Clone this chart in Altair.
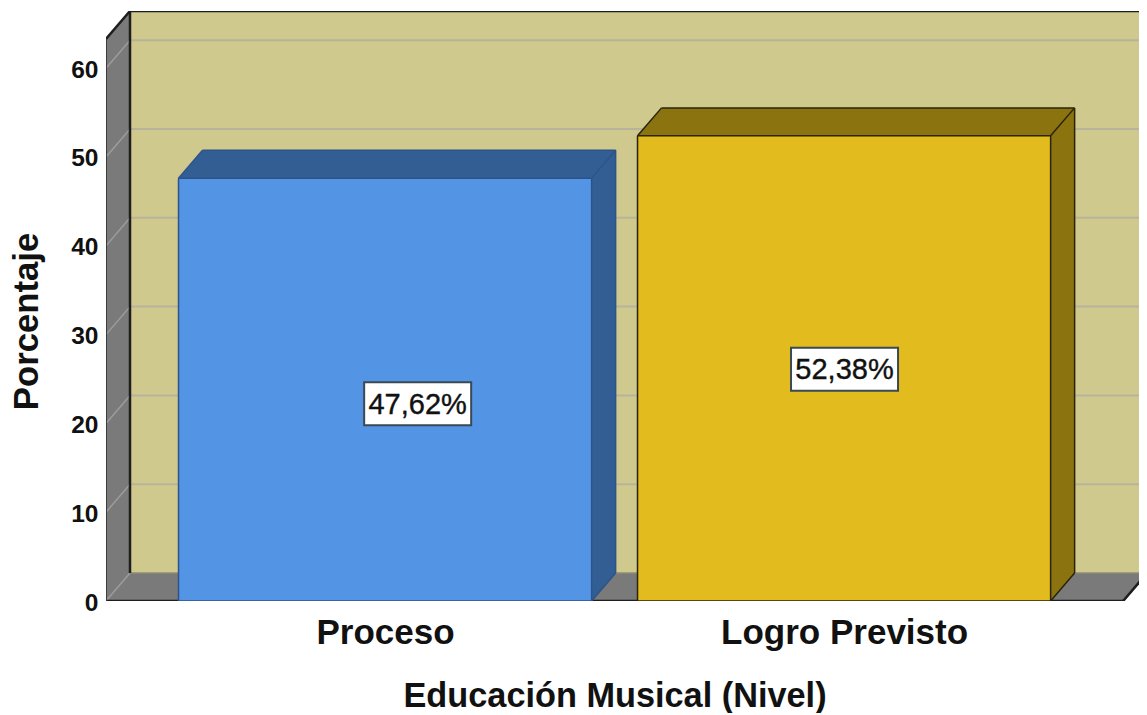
import altair as alt
import pandas as pd

categories = ["Proceso", "Logro Previsto"]
percentages = [47.62, 52.38]
label_texts = ["47,62%", "52,38%"]
label_x = [0.571, 1.501]
label_y = [22.2, 26.1]
centers = [0.5, 1.5]
front_colors = ["#5394E5", "#E2BB1E"]
dark_colors = ["#335E94", "#8B7310"]
edge_colors = ["#2C5488", "#2A2408"]
y_ticks = [0, 10, 20, 30, 40, 50, 60]

BAR_W = 0.9
DX = 0.0523          # depth of the box in x units
DZ = 3.15            # depth of the box in y units
X0, X1 = -0.108, 2.108
XMAX = X1 + DX
X_VIS = X0 + 1033 / 459
Y_TOP = 63.29
WALL = "#CFC98E"
GREY = "#7A7A7A"
GRID = "#B7B49B"
FONT = "Liberation Sans"

xs = alt.Scale(domain=[X0, X_VIS], range=[0, 1033], nice=False, zero=False)
ys = alt.Scale(domain=[0, Y_TOP + DZ], range=[590, 0], nice=False, zero=False)

label_expr = f"datum.value < 1 ? '{categories[0]}' : '{categories[1]}'"
x_axis = alt.Axis(
    values=centers, labelExpr=label_expr, grid=False, domain=False, ticks=False,
    labelFont=FONT, labelFontWeight="bold", labelFontSize=35, labelColor="#111111",
    labelPadding=31, labelBaseline="middle", labelFlush=False, labelOverlap=False, labelLimit=500,
    title="Educación Musical (Nivel)", titleFont=FONT, titleFontWeight="bold",
    titleFontSize=34.3, titleColor="#111111", titleX=508.5, titleY=95,
    titleAnchor="middle", titleAlign="center", titleBaseline="middle", titleLimit=800)
y_axis = alt.Axis(
    values=y_ticks, grid=False, domain=False, ticks=False,
    labelFont=FONT, labelFontWeight="bold", labelFontSize=24.5, labelColor="#111111",
    labelPadding=8, labelOverlap=False, labelFlush=False, labelOffset=2,
    title="Porcentaje", titleFont=FONT, titleFontWeight="bold", titleFontSize=34.7,
    titleColor="#111111", titleX=-79, titleY=310, titleAngle=270,
    titleAlign="center", titleBaseline="middle", titleLimit=500)


def X(f="x"):
    return alt.X(f"{f}:Q", scale=xs, axis=x_axis)


def Y(f="y"):
    return alt.Y(f"{f}:Q", scale=ys, axis=y_axis)


def wall_v(x, w, lo, hi, color):
    """Parallelogram with two vertical edges (side faces)."""
    d = pd.DataFrame({"x": [x, x + w], "y": [lo, lo + DZ], "y2": [hi, hi + DZ]})
    return alt.Chart(d).mark_area(color=color, interpolate="linear", clip=True).encode(
        x=X(), y=Y(), y2="y2:Q")


def wall_h(x, x2, h, color):
    """Parallelogram with two horizontal edges (floor, top faces)."""
    d = pd.DataFrame({"x": [x, x + DX], "x2": [x2, x2 + DX], "y": [h, h + DZ]})
    return alt.Chart(d).mark_area(color=color, orient="horizontal", interpolate="linear", clip=True).encode(
        x=X(), x2="x2:Q", y=Y())


def segs(rows, color, width):
    d = pd.DataFrame(rows, columns=["x", "y", "x2", "y2"])
    return alt.Chart(d).mark_rule(color=color, strokeWidth=width, clip=True).encode(
        x=X(), x2="x2:Q", y=Y(), y2="y2:Q")


back = pd.DataFrame({"x": [X0 + DX], "x2": [X_VIS], "y": [DZ], "y2": [Y_TOP + DZ]})
layers = [
    alt.Chart(back).mark_rect(color=WALL).encode(x=X(), x2="x2:Q", y=Y(), y2="y2:Q"),
    wall_v(X0, DX, 0, Y_TOP, GREY),
    wall_h(X0, X1, 0, GREY),
    segs([[X0 + DX, t + DZ, X_VIS, t + DZ] for t in y_ticks[1:]], GRID, 2),
    segs([[X0, t, X0 + DX, t + DZ] for t in y_ticks], "#9C9C9C", 1.5),
    segs([[X0 + DX, DZ, X_VIS, DZ]], "#8E8C76", 1.5),
    segs([[X0 + DX, 0 + DZ, X0 + DX, Y_TOP + DZ],
          [X0 + DX, Y_TOP + DZ, X_VIS, Y_TOP + DZ],
          [X0, Y_TOP, X0 + DX, Y_TOP + DZ],
          [X0, 0, X1, 0],
          [X1, 0, XMAX, DZ]], "#1E1E1E", 2.5),
    segs([[X0, 0, X0, Y_TOP]], "#3C3C3C", 2),
]

for c, p, front, dark, edge in zip(centers, percentages, front_colors, dark_colors, edge_colors):
    l, r = c - BAR_W / 2, c + BAR_W / 2
    d = pd.DataFrame({"x": [l], "x2": [r], "y": [0], "y2": [p]})
    layers += [
        wall_v(r, DX, 0, p, dark),
        wall_h(l, r, p, dark),
        alt.Chart(d).mark_rect(color=front).encode(x=X(), x2="x2:Q", y=Y(), y2="y2:Q"),
        segs([[l, 0, l, p], [l, p, r, p], [r, 0, r, p], [l, 0, r, 0],
              [r, p, r + DX, p + DZ], [l, p, l + DX, p + DZ],
              [l + DX, p + DZ, r + DX, p + DZ], [r + DX, p + DZ, r + DX, DZ],
              [r, 0, r + DX, DZ]], edge, 1.5),
    ]

lab = pd.DataFrame({"x": label_x, "y": label_y, "t": label_texts})
layers += [
    alt.Chart(lab).mark_rect(fill="white", stroke="#3A4A55", strokeWidth=2, width=107, height=43).encode(
        x=X(), y=Y()),
    alt.Chart(lab).mark_text(font=FONT, fontSize=29, color="#111111", baseline="middle", align="center",
                             dy=1, stroke="#111111", strokeWidth=0.4).encode(x=X(), y=Y(), text="t:N"),
]

chart = alt.layer(*layers).properties(
    width=1033, height=590,
    background="white",
    padding={"left": 98, "top": 3, "right": 0, "bottom": 112},
    autosize=alt.AutoSizeParams(type="none", contains="content"),
).configure_view(stroke=None)

chart.save("out.html", embed_options={"renderer": "svg", "actions": False})
